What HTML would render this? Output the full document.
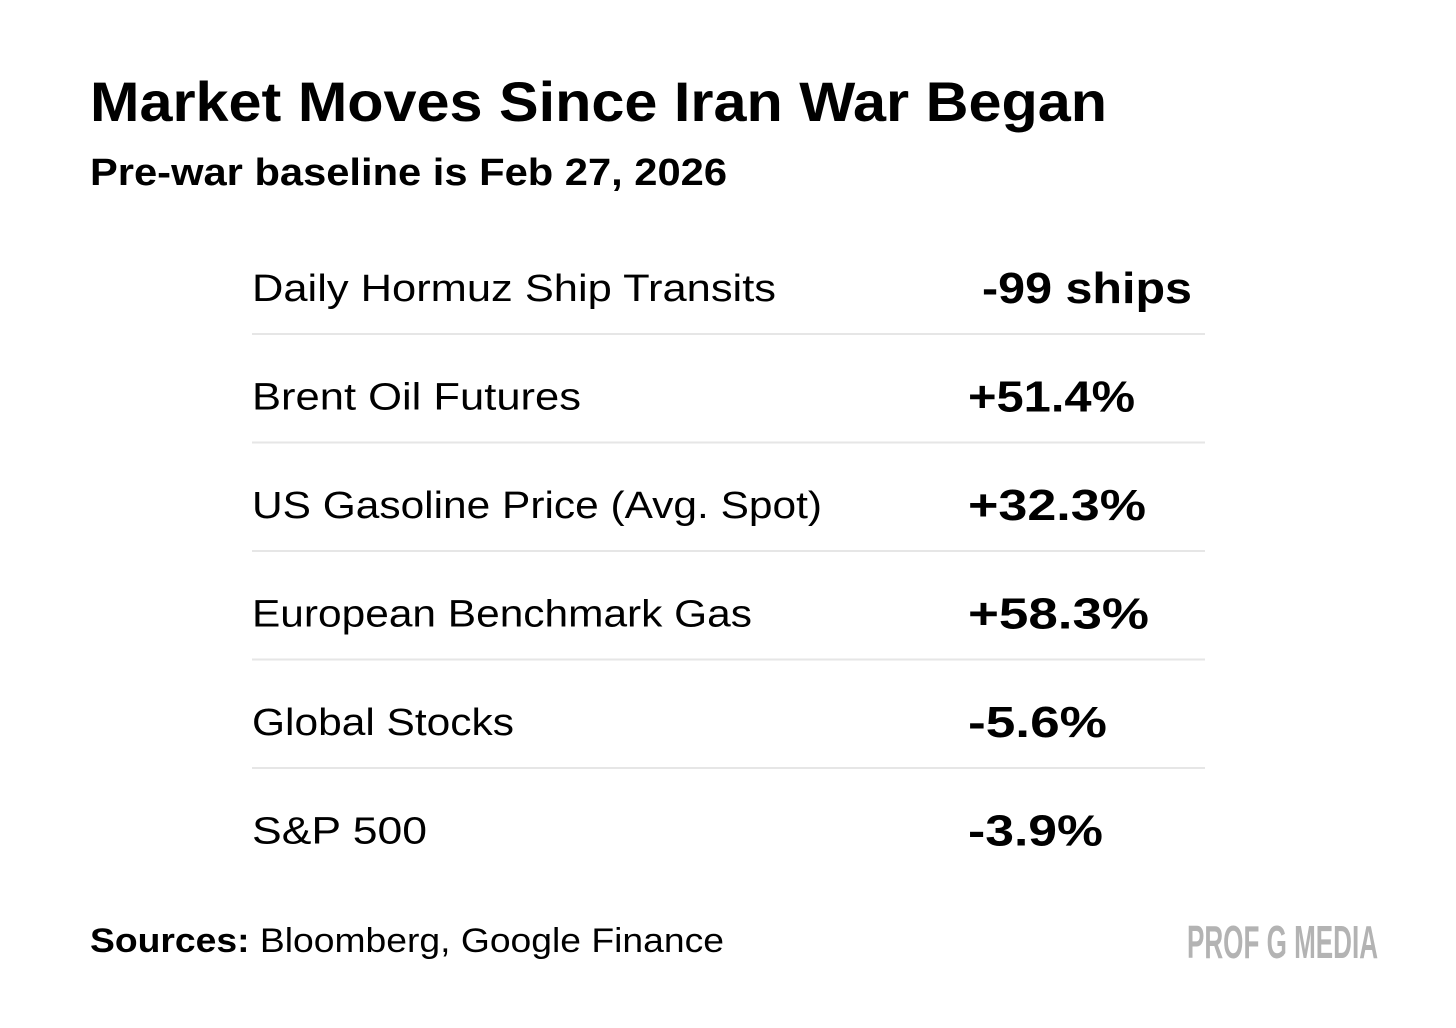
<!DOCTYPE html>
<html><head><meta charset="utf-8"><style>html,body{margin:0;padding:0;background:#fff}svg{display:block}</style></head>
<body>
<svg width="1456" height="1028" viewBox="0 0 1456 1028" xmlns="http://www.w3.org/2000/svg" font-family="Liberation Sans, sans-serif">
<rect width="1456" height="1028" fill="#fff"/>
<text x="90" y="121" font-size="56" font-weight="bold" textLength="1017" lengthAdjust="spacingAndGlyphs">Market Moves Since Iran War Began</text>
<text x="90" y="185" font-size="38" font-weight="bold" textLength="637" lengthAdjust="spacingAndGlyphs">Pre-war baseline is Feb 27, 2026</text>
<g id="rows"></g>
<text x="90" y="952" font-size="34" textLength="634" lengthAdjust="spacingAndGlyphs"><tspan font-weight="bold">Sources:</tspan> Bloomberg, Google Finance</text>
<text x="1187" y="958" font-size="46" font-weight="bold" fill="#b3b3b3" textLength="191" lengthAdjust="spacingAndGlyphs">PROF G MEDIA</text>
</svg>
<script>
const labels = ["Daily Hormuz Ship Transits","Brent Oil Futures","US Gasoline Price (Avg. Spot)","European Benchmark Gas","Global Stocks","S&P 500"];
const values = ["-99 ships","+51.4%","+32.3%","+58.3%","-5.6%","-3.9%"];
const labelW = [524,329,570,500,262,175];
const valueW = [210,167,178,181,139,135];
const NS="http://www.w3.org/2000/svg";
const g=document.getElementById('rows');
labels.forEach((l,i)=>{
  const y=301+i*108.5;
  const t=document.createElementNS(NS,'text');
  
  
  t.setAttribute('x',252);t.setAttribute('y',y);t.setAttribute('font-size','38');
  t.setAttribute('textLength',labelW[i]);t.setAttribute('lengthAdjust','spacingAndGlyphs');
  t.textContent=l;g.appendChild(t);
  const v=document.createElementNS(NS,'text');
  
  
  v.setAttribute('x',i===0?982:968);v.setAttribute('y',y+2);v.setAttribute('font-size','44');v.setAttribute('font-weight','bold');
  v.setAttribute('textLength',valueW[i]);v.setAttribute('lengthAdjust','spacingAndGlyphs');
  v.textContent=values[i];g.appendChild(v);
  if(i<labels.length-1){
    const r=document.createElementNS(NS,'rect');
    
    
    r.setAttribute('x',252);r.setAttribute('y',y+32);r.setAttribute('width',953);r.setAttribute('height',2);r.setAttribute('fill','#e6e6e6');
    g.appendChild(r);
  }
});
</script>
</body></html>
